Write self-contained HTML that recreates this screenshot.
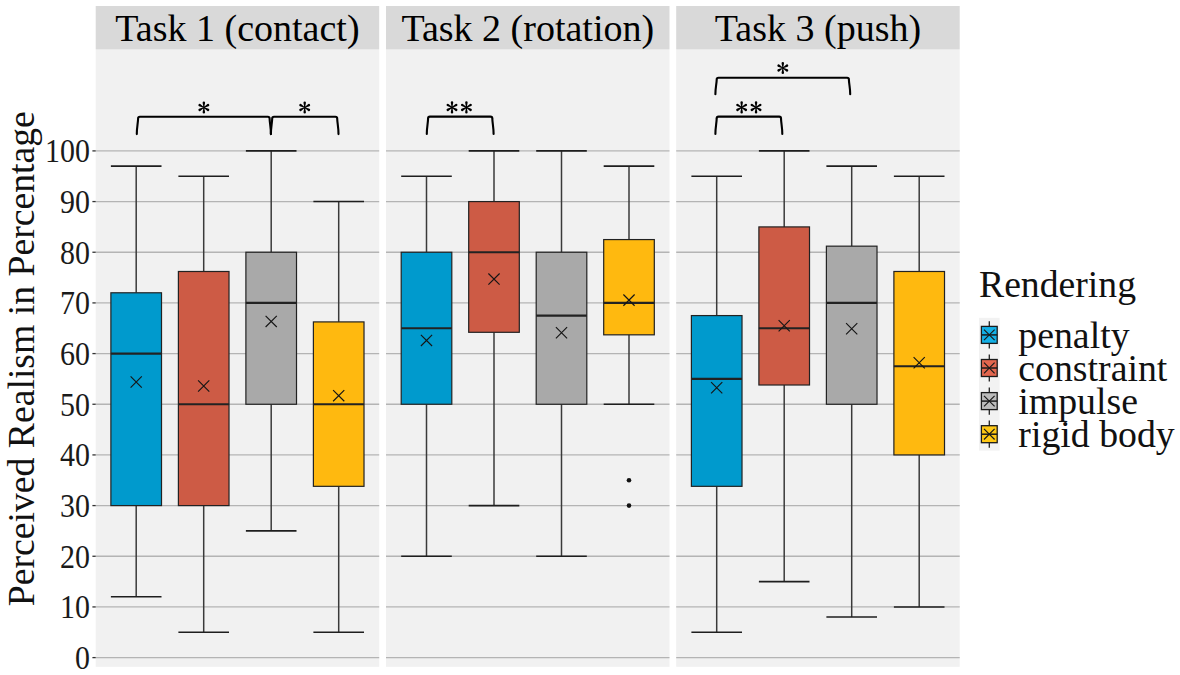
<!DOCTYPE html><html><head><meta charset="utf-8"><style>html,body{margin:0;padding:0;background:#fff;}svg{display:block}</style></head><body>
<svg width="1180" height="675" viewBox="0 0 1180 675" style="font-family:'Liberation Serif',serif">
<rect width="1180" height="675" fill="#fff"/>
<rect x="95.7" y="49.4" width="283.5" height="617.4" fill="#F1F1F1"/>
<rect x="95.7" y="6.0" width="283.5" height="43.4" fill="#D9D9D9"/>
<text x="237.45" y="41.3" font-size="38" text-anchor="middle" fill="#000">Task 1 (contact)</text>
<line x1="95.7" x2="379.2" y1="657.60" y2="657.60" stroke="#B4B4B4" stroke-width="1.3"/>
<line x1="95.7" x2="379.2" y1="606.93" y2="606.93" stroke="#B4B4B4" stroke-width="1.3"/>
<line x1="95.7" x2="379.2" y1="556.26" y2="556.26" stroke="#B4B4B4" stroke-width="1.3"/>
<line x1="95.7" x2="379.2" y1="505.59" y2="505.59" stroke="#B4B4B4" stroke-width="1.3"/>
<line x1="95.7" x2="379.2" y1="454.92" y2="454.92" stroke="#B4B4B4" stroke-width="1.3"/>
<line x1="95.7" x2="379.2" y1="404.25" y2="404.25" stroke="#B4B4B4" stroke-width="1.3"/>
<line x1="95.7" x2="379.2" y1="353.58" y2="353.58" stroke="#B4B4B4" stroke-width="1.3"/>
<line x1="95.7" x2="379.2" y1="302.91" y2="302.91" stroke="#B4B4B4" stroke-width="1.3"/>
<line x1="95.7" x2="379.2" y1="252.24" y2="252.24" stroke="#B4B4B4" stroke-width="1.3"/>
<line x1="95.7" x2="379.2" y1="201.57" y2="201.57" stroke="#B4B4B4" stroke-width="1.3"/>
<line x1="95.7" x2="379.2" y1="150.90" y2="150.90" stroke="#B4B4B4" stroke-width="1.3"/>
<line x1="136.20" x2="136.20" y1="166.10" y2="292.78" stroke="#3a3a3a" stroke-width="1.5"/>
<line x1="136.20" x2="136.20" y1="505.59" y2="596.80" stroke="#3a3a3a" stroke-width="1.5"/>
<line x1="110.89" x2="161.51" y1="166.10" y2="166.10" stroke="#1e1e1e" stroke-width="1.6"/>
<line x1="110.89" x2="161.51" y1="596.80" y2="596.80" stroke="#1e1e1e" stroke-width="1.6"/>
<rect x="110.89" y="292.78" width="50.62" height="212.81" fill="#009ACD" stroke="#222" stroke-width="1.2"/>
<line x1="110.89" x2="161.51" y1="353.58" y2="353.58" stroke="#222" stroke-width="2.2"/>
<path d="M130.60 376.36L141.80 387.56M130.60 387.56L141.80 376.36" stroke="#151515" stroke-width="1.15" fill="none"/>
<line x1="203.70" x2="203.70" y1="176.24" y2="271.49" stroke="#3a3a3a" stroke-width="1.5"/>
<line x1="203.70" x2="203.70" y1="505.59" y2="632.26" stroke="#3a3a3a" stroke-width="1.5"/>
<line x1="178.39" x2="229.01" y1="176.24" y2="176.24" stroke="#1e1e1e" stroke-width="1.6"/>
<line x1="178.39" x2="229.01" y1="632.26" y2="632.26" stroke="#1e1e1e" stroke-width="1.6"/>
<rect x="178.39" y="271.49" width="50.62" height="234.10" fill="#CD5B45" stroke="#222" stroke-width="1.2"/>
<line x1="178.39" x2="229.01" y1="404.25" y2="404.25" stroke="#222" stroke-width="2.2"/>
<path d="M198.10 380.41L209.30 391.61M198.10 391.61L209.30 380.41" stroke="#151515" stroke-width="1.15" fill="none"/>
<line x1="271.20" x2="271.20" y1="150.90" y2="252.24" stroke="#3a3a3a" stroke-width="1.5"/>
<line x1="271.20" x2="271.20" y1="404.25" y2="530.92" stroke="#3a3a3a" stroke-width="1.5"/>
<line x1="245.89" x2="296.51" y1="150.90" y2="150.90" stroke="#1e1e1e" stroke-width="1.6"/>
<line x1="245.89" x2="296.51" y1="530.92" y2="530.92" stroke="#1e1e1e" stroke-width="1.6"/>
<rect x="245.89" y="252.24" width="50.62" height="152.01" fill="#A9A9A9" stroke="#222" stroke-width="1.2"/>
<line x1="245.89" x2="296.51" y1="302.91" y2="302.91" stroke="#222" stroke-width="2.2"/>
<path d="M265.60 315.80L276.80 327.00M265.60 327.00L276.80 315.80" stroke="#151515" stroke-width="1.15" fill="none"/>
<line x1="338.70" x2="338.70" y1="201.57" y2="321.91" stroke="#3a3a3a" stroke-width="1.5"/>
<line x1="338.70" x2="338.70" y1="486.34" y2="632.26" stroke="#3a3a3a" stroke-width="1.5"/>
<line x1="313.39" x2="364.01" y1="201.57" y2="201.57" stroke="#1e1e1e" stroke-width="1.6"/>
<line x1="313.39" x2="364.01" y1="632.26" y2="632.26" stroke="#1e1e1e" stroke-width="1.6"/>
<rect x="313.39" y="321.91" width="50.62" height="164.42" fill="#FFB90F" stroke="#222" stroke-width="1.2"/>
<line x1="313.39" x2="364.01" y1="404.25" y2="404.25" stroke="#222" stroke-width="2.2"/>
<path d="M333.10 390.04L344.30 401.24M333.10 401.24L344.30 390.04" stroke="#151515" stroke-width="1.15" fill="none"/>
<rect x="386.0" y="49.4" width="283.5" height="617.4" fill="#F1F1F1"/>
<rect x="386.0" y="6.0" width="283.5" height="43.4" fill="#D9D9D9"/>
<text x="527.75" y="41.3" font-size="38" text-anchor="middle" fill="#000">Task 2 (rotation)</text>
<line x1="386.0" x2="669.5" y1="657.60" y2="657.60" stroke="#B4B4B4" stroke-width="1.3"/>
<line x1="386.0" x2="669.5" y1="606.93" y2="606.93" stroke="#B4B4B4" stroke-width="1.3"/>
<line x1="386.0" x2="669.5" y1="556.26" y2="556.26" stroke="#B4B4B4" stroke-width="1.3"/>
<line x1="386.0" x2="669.5" y1="505.59" y2="505.59" stroke="#B4B4B4" stroke-width="1.3"/>
<line x1="386.0" x2="669.5" y1="454.92" y2="454.92" stroke="#B4B4B4" stroke-width="1.3"/>
<line x1="386.0" x2="669.5" y1="404.25" y2="404.25" stroke="#B4B4B4" stroke-width="1.3"/>
<line x1="386.0" x2="669.5" y1="353.58" y2="353.58" stroke="#B4B4B4" stroke-width="1.3"/>
<line x1="386.0" x2="669.5" y1="302.91" y2="302.91" stroke="#B4B4B4" stroke-width="1.3"/>
<line x1="386.0" x2="669.5" y1="252.24" y2="252.24" stroke="#B4B4B4" stroke-width="1.3"/>
<line x1="386.0" x2="669.5" y1="201.57" y2="201.57" stroke="#B4B4B4" stroke-width="1.3"/>
<line x1="386.0" x2="669.5" y1="150.90" y2="150.90" stroke="#B4B4B4" stroke-width="1.3"/>
<line x1="426.50" x2="426.50" y1="176.24" y2="252.24" stroke="#3a3a3a" stroke-width="1.5"/>
<line x1="426.50" x2="426.50" y1="404.25" y2="556.26" stroke="#3a3a3a" stroke-width="1.5"/>
<line x1="401.19" x2="451.81" y1="176.24" y2="176.24" stroke="#1e1e1e" stroke-width="1.6"/>
<line x1="401.19" x2="451.81" y1="556.26" y2="556.26" stroke="#1e1e1e" stroke-width="1.6"/>
<rect x="401.19" y="252.24" width="50.62" height="152.01" fill="#009ACD" stroke="#222" stroke-width="1.2"/>
<line x1="401.19" x2="451.81" y1="328.25" y2="328.25" stroke="#222" stroke-width="2.2"/>
<path d="M420.90 334.81L432.10 346.01M420.90 346.01L432.10 334.81" stroke="#151515" stroke-width="1.15" fill="none"/>
<line x1="494.00" x2="494.00" y1="150.90" y2="201.57" stroke="#3a3a3a" stroke-width="1.5"/>
<line x1="494.00" x2="494.00" y1="332.30" y2="505.59" stroke="#3a3a3a" stroke-width="1.5"/>
<line x1="468.69" x2="519.31" y1="150.90" y2="150.90" stroke="#1e1e1e" stroke-width="1.6"/>
<line x1="468.69" x2="519.31" y1="505.59" y2="505.59" stroke="#1e1e1e" stroke-width="1.6"/>
<rect x="468.69" y="201.57" width="50.62" height="130.73" fill="#CD5B45" stroke="#222" stroke-width="1.2"/>
<line x1="468.69" x2="519.31" y1="252.24" y2="252.24" stroke="#222" stroke-width="2.2"/>
<path d="M488.40 273.50L499.60 284.70M488.40 284.70L499.60 273.50" stroke="#151515" stroke-width="1.15" fill="none"/>
<line x1="561.50" x2="561.50" y1="150.90" y2="252.24" stroke="#3a3a3a" stroke-width="1.5"/>
<line x1="561.50" x2="561.50" y1="404.25" y2="556.26" stroke="#3a3a3a" stroke-width="1.5"/>
<line x1="536.19" x2="586.81" y1="150.90" y2="150.90" stroke="#1e1e1e" stroke-width="1.6"/>
<line x1="536.19" x2="586.81" y1="556.26" y2="556.26" stroke="#1e1e1e" stroke-width="1.6"/>
<rect x="536.19" y="252.24" width="50.62" height="152.01" fill="#A9A9A9" stroke="#222" stroke-width="1.2"/>
<line x1="536.19" x2="586.81" y1="315.58" y2="315.58" stroke="#222" stroke-width="2.2"/>
<path d="M555.90 327.21L567.10 338.41M555.90 338.41L567.10 327.21" stroke="#151515" stroke-width="1.15" fill="none"/>
<line x1="629.00" x2="629.00" y1="166.10" y2="239.57" stroke="#3a3a3a" stroke-width="1.5"/>
<line x1="629.00" x2="629.00" y1="334.83" y2="404.25" stroke="#3a3a3a" stroke-width="1.5"/>
<line x1="603.69" x2="654.31" y1="166.10" y2="166.10" stroke="#1e1e1e" stroke-width="1.6"/>
<line x1="603.69" x2="654.31" y1="404.25" y2="404.25" stroke="#1e1e1e" stroke-width="1.6"/>
<rect x="603.69" y="239.57" width="50.62" height="95.26" fill="#FFB90F" stroke="#222" stroke-width="1.2"/>
<line x1="603.69" x2="654.31" y1="302.91" y2="302.91" stroke="#222" stroke-width="2.2"/>
<path d="M623.40 294.52L634.60 305.72M623.40 305.72L634.60 294.52" stroke="#151515" stroke-width="1.15" fill="none"/>
<circle cx="629.00" cy="480.25" r="2.3" fill="#111"/>
<circle cx="629.00" cy="505.59" r="2.3" fill="#111"/>
<rect x="676.2" y="49.4" width="283.5" height="617.4" fill="#F1F1F1"/>
<rect x="676.2" y="6.0" width="283.5" height="43.4" fill="#D9D9D9"/>
<text x="817.95" y="41.3" font-size="38" text-anchor="middle" fill="#000">Task 3 (push)</text>
<line x1="676.2" x2="959.7" y1="657.60" y2="657.60" stroke="#B4B4B4" stroke-width="1.3"/>
<line x1="676.2" x2="959.7" y1="606.93" y2="606.93" stroke="#B4B4B4" stroke-width="1.3"/>
<line x1="676.2" x2="959.7" y1="556.26" y2="556.26" stroke="#B4B4B4" stroke-width="1.3"/>
<line x1="676.2" x2="959.7" y1="505.59" y2="505.59" stroke="#B4B4B4" stroke-width="1.3"/>
<line x1="676.2" x2="959.7" y1="454.92" y2="454.92" stroke="#B4B4B4" stroke-width="1.3"/>
<line x1="676.2" x2="959.7" y1="404.25" y2="404.25" stroke="#B4B4B4" stroke-width="1.3"/>
<line x1="676.2" x2="959.7" y1="353.58" y2="353.58" stroke="#B4B4B4" stroke-width="1.3"/>
<line x1="676.2" x2="959.7" y1="302.91" y2="302.91" stroke="#B4B4B4" stroke-width="1.3"/>
<line x1="676.2" x2="959.7" y1="252.24" y2="252.24" stroke="#B4B4B4" stroke-width="1.3"/>
<line x1="676.2" x2="959.7" y1="201.57" y2="201.57" stroke="#B4B4B4" stroke-width="1.3"/>
<line x1="676.2" x2="959.7" y1="150.90" y2="150.90" stroke="#B4B4B4" stroke-width="1.3"/>
<line x1="716.70" x2="716.70" y1="176.24" y2="315.58" stroke="#3a3a3a" stroke-width="1.5"/>
<line x1="716.70" x2="716.70" y1="486.34" y2="632.26" stroke="#3a3a3a" stroke-width="1.5"/>
<line x1="691.39" x2="742.01" y1="176.24" y2="176.24" stroke="#1e1e1e" stroke-width="1.6"/>
<line x1="691.39" x2="742.01" y1="632.26" y2="632.26" stroke="#1e1e1e" stroke-width="1.6"/>
<rect x="691.39" y="315.58" width="50.62" height="170.76" fill="#009ACD" stroke="#222" stroke-width="1.2"/>
<line x1="691.39" x2="742.01" y1="378.92" y2="378.92" stroke="#222" stroke-width="2.2"/>
<path d="M711.10 382.18L722.30 393.38M711.10 393.38L722.30 382.18" stroke="#151515" stroke-width="1.15" fill="none"/>
<line x1="784.20" x2="784.20" y1="150.90" y2="226.91" stroke="#3a3a3a" stroke-width="1.5"/>
<line x1="784.20" x2="784.20" y1="385.00" y2="581.60" stroke="#3a3a3a" stroke-width="1.5"/>
<line x1="758.89" x2="809.51" y1="150.90" y2="150.90" stroke="#1e1e1e" stroke-width="1.6"/>
<line x1="758.89" x2="809.51" y1="581.60" y2="581.60" stroke="#1e1e1e" stroke-width="1.6"/>
<rect x="758.89" y="226.91" width="50.62" height="158.09" fill="#CD5B45" stroke="#222" stroke-width="1.2"/>
<line x1="758.89" x2="809.51" y1="328.25" y2="328.25" stroke="#222" stroke-width="2.2"/>
<path d="M778.60 320.11L789.80 331.31M778.60 331.31L789.80 320.11" stroke="#151515" stroke-width="1.15" fill="none"/>
<line x1="851.70" x2="851.70" y1="166.10" y2="246.16" stroke="#3a3a3a" stroke-width="1.5"/>
<line x1="851.70" x2="851.70" y1="404.25" y2="617.06" stroke="#3a3a3a" stroke-width="1.5"/>
<line x1="826.39" x2="877.01" y1="166.10" y2="166.10" stroke="#1e1e1e" stroke-width="1.6"/>
<line x1="826.39" x2="877.01" y1="617.06" y2="617.06" stroke="#1e1e1e" stroke-width="1.6"/>
<rect x="826.39" y="246.16" width="50.62" height="158.09" fill="#A9A9A9" stroke="#222" stroke-width="1.2"/>
<line x1="826.39" x2="877.01" y1="302.91" y2="302.91" stroke="#222" stroke-width="2.2"/>
<path d="M846.10 323.15L857.30 334.35M846.10 334.35L857.30 323.15" stroke="#151515" stroke-width="1.15" fill="none"/>
<line x1="919.20" x2="919.20" y1="176.24" y2="271.49" stroke="#3a3a3a" stroke-width="1.5"/>
<line x1="919.20" x2="919.20" y1="454.92" y2="606.93" stroke="#3a3a3a" stroke-width="1.5"/>
<line x1="893.89" x2="944.51" y1="176.24" y2="176.24" stroke="#1e1e1e" stroke-width="1.6"/>
<line x1="893.89" x2="944.51" y1="606.93" y2="606.93" stroke="#1e1e1e" stroke-width="1.6"/>
<rect x="893.89" y="271.49" width="50.62" height="183.43" fill="#FFB90F" stroke="#222" stroke-width="1.2"/>
<line x1="893.89" x2="944.51" y1="366.25" y2="366.25" stroke="#222" stroke-width="2.2"/>
<path d="M913.60 357.10L924.80 368.30M913.60 368.30L924.80 357.10" stroke="#151515" stroke-width="1.15" fill="none"/>
<line x1="92.4" x2="95.7" y1="657.60" y2="657.60" stroke="#333" stroke-width="1.3"/>
<text transform="translate(90,668.90) scale(0.9,1)" font-size="33.3" text-anchor="end" fill="#1a1a1a">0</text>
<line x1="92.4" x2="95.7" y1="606.93" y2="606.93" stroke="#333" stroke-width="1.3"/>
<text transform="translate(90,618.23) scale(0.9,1)" font-size="33.3" text-anchor="end" fill="#1a1a1a">10</text>
<line x1="92.4" x2="95.7" y1="556.26" y2="556.26" stroke="#333" stroke-width="1.3"/>
<text transform="translate(90,567.56) scale(0.9,1)" font-size="33.3" text-anchor="end" fill="#1a1a1a">20</text>
<line x1="92.4" x2="95.7" y1="505.59" y2="505.59" stroke="#333" stroke-width="1.3"/>
<text transform="translate(90,516.89) scale(0.9,1)" font-size="33.3" text-anchor="end" fill="#1a1a1a">30</text>
<line x1="92.4" x2="95.7" y1="454.92" y2="454.92" stroke="#333" stroke-width="1.3"/>
<text transform="translate(90,466.22) scale(0.9,1)" font-size="33.3" text-anchor="end" fill="#1a1a1a">40</text>
<line x1="92.4" x2="95.7" y1="404.25" y2="404.25" stroke="#333" stroke-width="1.3"/>
<text transform="translate(90,415.55) scale(0.9,1)" font-size="33.3" text-anchor="end" fill="#1a1a1a">50</text>
<line x1="92.4" x2="95.7" y1="353.58" y2="353.58" stroke="#333" stroke-width="1.3"/>
<text transform="translate(90,364.88) scale(0.9,1)" font-size="33.3" text-anchor="end" fill="#1a1a1a">60</text>
<line x1="92.4" x2="95.7" y1="302.91" y2="302.91" stroke="#333" stroke-width="1.3"/>
<text transform="translate(90,314.21) scale(0.9,1)" font-size="33.3" text-anchor="end" fill="#1a1a1a">70</text>
<line x1="92.4" x2="95.7" y1="252.24" y2="252.24" stroke="#333" stroke-width="1.3"/>
<text transform="translate(90,263.54) scale(0.9,1)" font-size="33.3" text-anchor="end" fill="#1a1a1a">80</text>
<line x1="92.4" x2="95.7" y1="201.57" y2="201.57" stroke="#333" stroke-width="1.3"/>
<text transform="translate(90,212.87) scale(0.9,1)" font-size="33.3" text-anchor="end" fill="#1a1a1a">90</text>
<line x1="92.4" x2="95.7" y1="150.90" y2="150.90" stroke="#333" stroke-width="1.3"/>
<text transform="translate(90,162.20) scale(0.9,1)" font-size="33.3" text-anchor="end" fill="#1a1a1a">100</text>
<text transform="translate(34,358.7) rotate(-90)" x="0" y="0" font-size="37.7" text-anchor="middle" fill="#111">Perceived Realism in Percentage</text>
<path d="M136.80 134.10C136.80 127.10 137.95 123.70 138.10 118.50Q138.10 116.70 139.90 116.70L267.80 116.70Q269.60 116.70 269.60 118.50C269.75 123.70 270.90 127.10 270.90 134.10" stroke="#000" stroke-width="2.1" fill="none" stroke-linejoin="round" stroke-linecap="round"/>
<path d="M204.20 107.50L205.10 102.65A1.25 1.25 0 1 0 202.60 102.65L203.50 107.50ZM204.03 107.80L208.68 106.16A1.25 1.25 0 1 0 207.43 103.99L203.67 107.20ZM203.67 107.80L207.43 111.01A1.25 1.25 0 1 0 208.68 108.84L204.03 107.20ZM203.50 107.50L202.60 112.35A1.25 1.25 0 1 0 205.10 112.35L204.20 107.50ZM203.67 107.20L199.02 108.84A1.25 1.25 0 1 0 200.27 111.01L204.03 107.80ZM204.03 107.20L200.27 103.99A1.25 1.25 0 1 0 199.02 106.16L203.67 107.80Z" fill="#000"/>
<path d="M270.90 134.10C270.90 127.10 272.05 123.70 272.20 118.50Q272.20 116.70 274.00 116.70L335.40 116.70Q337.20 116.70 337.20 118.50C337.35 123.70 338.50 127.10 338.50 134.10" stroke="#000" stroke-width="2.1" fill="none" stroke-linejoin="round" stroke-linecap="round"/>
<path d="M305.05 107.50L305.95 102.65A1.25 1.25 0 1 0 303.45 102.65L304.35 107.50ZM304.88 107.80L309.53 106.16A1.25 1.25 0 1 0 308.28 103.99L304.52 107.20ZM304.52 107.80L308.28 111.01A1.25 1.25 0 1 0 309.53 108.84L304.88 107.20ZM304.35 107.50L303.45 112.35A1.25 1.25 0 1 0 305.95 112.35L305.05 107.50ZM304.52 107.20L299.87 108.84A1.25 1.25 0 1 0 301.12 111.01L304.88 107.80ZM304.88 107.20L301.12 103.99A1.25 1.25 0 1 0 299.87 106.16L304.52 107.80Z" fill="#000"/>
<path d="M426.80 134.00C426.80 127.00 427.95 123.60 428.10 118.40Q428.10 116.60 429.90 116.60L490.50 116.60Q492.30 116.60 492.30 118.40C492.45 123.60 493.60 127.00 493.60 134.00" stroke="#000" stroke-width="2.1" fill="none" stroke-linejoin="round" stroke-linecap="round"/>
<path d="M452.35 107.40L453.25 102.55A1.25 1.25 0 1 0 450.75 102.55L451.65 107.40ZM452.18 107.70L456.83 106.06A1.25 1.25 0 1 0 455.58 103.89L451.83 107.10ZM451.83 107.70L455.58 110.91A1.25 1.25 0 1 0 456.83 108.74L452.18 107.10ZM451.65 107.40L450.75 112.25A1.25 1.25 0 1 0 453.25 112.25L452.35 107.40ZM451.83 107.10L447.17 108.74A1.25 1.25 0 1 0 448.42 110.91L452.18 107.70ZM452.18 107.10L448.42 103.89A1.25 1.25 0 1 0 447.17 106.06L451.83 107.70Z" fill="#000"/>
<path d="M466.75 107.40L467.65 102.55A1.25 1.25 0 1 0 465.15 102.55L466.05 107.40ZM466.58 107.70L471.23 106.06A1.25 1.25 0 1 0 469.98 103.89L466.23 107.10ZM466.23 107.70L469.98 110.91A1.25 1.25 0 1 0 471.23 108.74L466.58 107.10ZM466.05 107.40L465.15 112.25A1.25 1.25 0 1 0 467.65 112.25L466.75 107.40ZM466.23 107.10L461.57 108.74A1.25 1.25 0 1 0 462.82 110.91L466.58 107.70ZM466.58 107.10L462.82 103.89A1.25 1.25 0 1 0 461.57 106.06L466.23 107.70Z" fill="#000"/>
<path d="M715.40 94.30C715.40 87.30 716.55 84.80 716.70 79.60Q716.70 77.80 718.50 77.80L847.10 77.80Q848.90 77.80 848.90 79.60C849.05 84.80 850.20 87.30 850.20 94.30" stroke="#000" stroke-width="2.1" fill="none" stroke-linejoin="round" stroke-linecap="round"/>
<path d="M783.15 68.00L784.05 63.15A1.25 1.25 0 1 0 781.55 63.15L782.45 68.00ZM782.97 68.30L787.63 66.66A1.25 1.25 0 1 0 786.38 64.49L782.62 67.70ZM782.62 68.30L786.38 71.51A1.25 1.25 0 1 0 787.63 69.34L782.97 67.70ZM782.45 68.00L781.55 72.85A1.25 1.25 0 1 0 784.05 72.85L783.15 68.00ZM782.62 67.70L777.97 69.34A1.25 1.25 0 1 0 779.22 71.51L782.97 68.30ZM782.97 67.70L779.22 64.49A1.25 1.25 0 1 0 777.97 66.66L782.62 68.30Z" fill="#000"/>
<path d="M715.40 133.90C715.40 126.90 716.55 123.60 716.70 118.40Q716.70 116.60 718.50 116.60L779.20 116.60Q781.00 116.60 781.00 118.40C781.15 123.60 782.30 126.90 782.30 133.90" stroke="#000" stroke-width="2.1" fill="none" stroke-linejoin="round" stroke-linecap="round"/>
<path d="M742.00 107.40L742.90 102.55A1.25 1.25 0 1 0 740.40 102.55L741.30 107.40ZM741.82 107.70L746.48 106.06A1.25 1.25 0 1 0 745.23 103.89L741.47 107.10ZM741.47 107.70L745.23 110.91A1.25 1.25 0 1 0 746.48 108.74L741.82 107.10ZM741.30 107.40L740.40 112.25A1.25 1.25 0 1 0 742.90 112.25L742.00 107.40ZM741.47 107.10L736.82 108.74A1.25 1.25 0 1 0 738.07 110.91L741.82 107.70ZM741.82 107.10L738.07 103.89A1.25 1.25 0 1 0 736.82 106.06L741.47 107.70Z" fill="#000"/>
<path d="M756.40 107.40L757.30 102.55A1.25 1.25 0 1 0 754.80 102.55L755.70 107.40ZM756.22 107.70L760.88 106.06A1.25 1.25 0 1 0 759.63 103.89L755.88 107.10ZM755.88 107.70L759.63 110.91A1.25 1.25 0 1 0 760.88 108.74L756.22 107.10ZM755.70 107.40L754.80 112.25A1.25 1.25 0 1 0 757.30 112.25L756.40 107.40ZM755.88 107.10L751.22 108.74A1.25 1.25 0 1 0 752.47 110.91L756.22 107.70ZM756.22 107.10L752.47 103.89A1.25 1.25 0 1 0 751.22 106.06L755.88 107.70Z" fill="#000"/>
<text x="979.0" y="296.5" font-size="37.7" fill="#111">Rendering</text>
<rect x="979" y="317.8" width="20.6" height="132.8" fill="#F2F2F2"/>
<line x1="989.3" x2="989.3" y1="321.30" y2="348.50" stroke="#222" stroke-width="1.3"/>
<rect x="981.4" y="326.40" width="15.8" height="17.0" fill="#13B0E6" stroke="#1a1a1a" stroke-width="1.3"/>
<line x1="981.4" x2="997.2" y1="334.90" y2="334.90" stroke="#1a1a1a" stroke-width="1.5"/>
<path d="M984.00 329.60L994.60 340.20M984.00 340.20L994.60 329.60" stroke="#1a1a1a" stroke-width="1.2" fill="none"/>
<text x="1018.3" y="347.60" font-size="37.8" fill="#111">penalty</text>
<line x1="989.3" x2="989.3" y1="354.40" y2="381.60" stroke="#222" stroke-width="1.3"/>
<rect x="981.4" y="359.50" width="15.8" height="17.0" fill="#E2664E" stroke="#1a1a1a" stroke-width="1.3"/>
<line x1="981.4" x2="997.2" y1="368.00" y2="368.00" stroke="#1a1a1a" stroke-width="1.5"/>
<path d="M984.00 362.70L994.60 373.30M984.00 373.30L994.60 362.70" stroke="#1a1a1a" stroke-width="1.2" fill="none"/>
<text x="1018.3" y="380.70" font-size="37.8" fill="#111">constraint</text>
<line x1="989.3" x2="989.3" y1="387.50" y2="414.70" stroke="#222" stroke-width="1.3"/>
<rect x="981.4" y="392.60" width="15.8" height="17.0" fill="#BBBBBB" stroke="#1a1a1a" stroke-width="1.3"/>
<line x1="981.4" x2="997.2" y1="401.10" y2="401.10" stroke="#1a1a1a" stroke-width="1.5"/>
<path d="M984.00 395.80L994.60 406.40M984.00 406.40L994.60 395.80" stroke="#1a1a1a" stroke-width="1.2" fill="none"/>
<text x="1018.3" y="413.80" font-size="37.8" fill="#111">impulse</text>
<line x1="989.3" x2="989.3" y1="420.60" y2="447.80" stroke="#222" stroke-width="1.3"/>
<rect x="981.4" y="425.70" width="15.8" height="17.0" fill="#FFC814" stroke="#1a1a1a" stroke-width="1.3"/>
<line x1="981.4" x2="997.2" y1="434.20" y2="434.20" stroke="#1a1a1a" stroke-width="1.5"/>
<path d="M984.00 428.90L994.60 439.50M984.00 439.50L994.60 428.90" stroke="#1a1a1a" stroke-width="1.2" fill="none"/>
<text x="1018.3" y="446.90" font-size="37.8" fill="#111">rigid body</text>
</svg></body></html>
